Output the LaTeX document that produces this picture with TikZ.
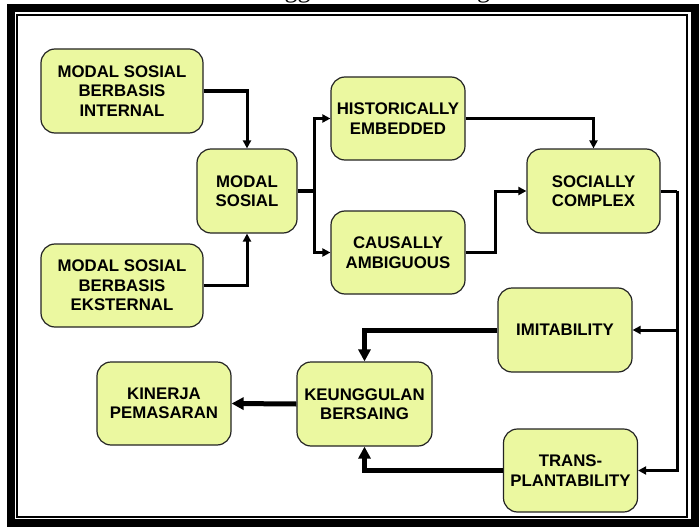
\documentclass[tikz,border=0pt]{standalone}
\usepackage{fontspec}
\setmainfont{Liberation Sans}
\newfontfamily\captionserif{Liberation Serif}
\usetikzlibrary{arrows.meta}
\definecolor{boxfill}{RGB}{235,248,160}
\definecolor{boxline}{RGB}{35,35,35}
\tikzset{
  blk/.style={draw=boxline, line width=1.2pt, fill=boxfill, rounded corners=14pt,
    minimum width=#1, align=center, inner sep=0pt,
    font=\fontsize{16.8}{19.5}\selectfont\bfseries},
  blk/.default=134pt,
  thinlink/.style={line width=3pt, -{Triangle[length=8pt,width=8pt]}},
  thicklink/.style={line width=5pt, -{Triangle[length=12pt,width=12pt]}},
}
\begin{document}
\begin{tikzpicture}[x=1pt,y=-1pt]
\useasboundingbox (0,0) rectangle (699,527);

% caption descenders cut by the page edge
\begin{scope}
  \clip (0,0) rectangle (699,20);
  \node[anchor=base, inner sep=0pt, font=\captionserif\fontsize{26}{30}\selectfont] (captA) at (297.5,-2.5) {gg};
  \node[anchor=base, inner sep=0pt, font=\captionserif\fontsize{26}{30}\selectfont] (captB) at (483.5,-2.5) {g};
\end{scope}

% double frame
\draw[line width=8pt] (10.5,8) rectangle (694.5,523);
\draw[line width=2pt] (17,15) rectangle (687,517);

% boxes
\node[blk=162pt, minimum height=84pt] (int) at (122,91) {MODAL SOSIAL\\BERBASIS\\INTERNAL};
\node[blk=162pt, minimum height=83pt] (eks) at (122,285.5) {MODAL SOSIAL\\BERBASIS\\EKSTERNAL};
\node[blk=100pt, minimum height=84pt] (ms) at (247,191) {MODAL\\SOSIAL};
\node[blk, minimum height=83pt] (hist) at (398,118.5) {HISTORICALLY\\EMBEDDED};
\node[blk, minimum height=83pt] (caus) at (398,252.5) {CAUSALLY\\AMBIGUOUS};
\node[blk=133pt, minimum height=84pt] (soc) at (593.5,191) {SOCIALLY\\COMPLEX};
\node[blk, minimum height=84pt] (imi) at (565,330) {IMITABILITY};
\node[blk=135pt, minimum height=84pt] (keu) at (364.5,404) {KEUNGGULAN\\BERSAING};
\node[blk, minimum height=83pt] (trans) at (570.5,470.5) {TRANS-\\PLANTABILITY};
\node[blk, minimum height=83pt] (kin) at (164,403.5) {KINERJA\\PEMASARAN};

% branch points
\coordinate (msfork) at (314,191);
\coordinate (cafork) at (495,252.5);
\coordinate (socfork) at (677,191);

% thin connectors
\draw[thinlink] (int.east) -| (ms.north);
\draw[thinlink] (eks.east) -| (ms.south);
\draw[line width=4pt] (ms.east) -- (msfork);
\draw[thinlink] (msfork) |- (hist.west);
\draw[thinlink] (msfork) |- (caus.west);
\draw[thinlink] (hist.east) -| (soc.north);
\draw[thinlink] (caus.east) -- (cafork) |- (soc.west);
\draw[line width=3pt] (soc.east) -- (socfork);
\draw[thinlink] (socfork) |- (imi.east);
\draw[thinlink] (socfork) |- (trans.east);

% thick connectors
\draw[thicklink] (imi.west) -| (keu.north);
\draw[thicklink] (trans.west) -| (keu.south);
\draw[thicklink] (keu.west) -- (kin.east);
\end{tikzpicture}
\end{document}
